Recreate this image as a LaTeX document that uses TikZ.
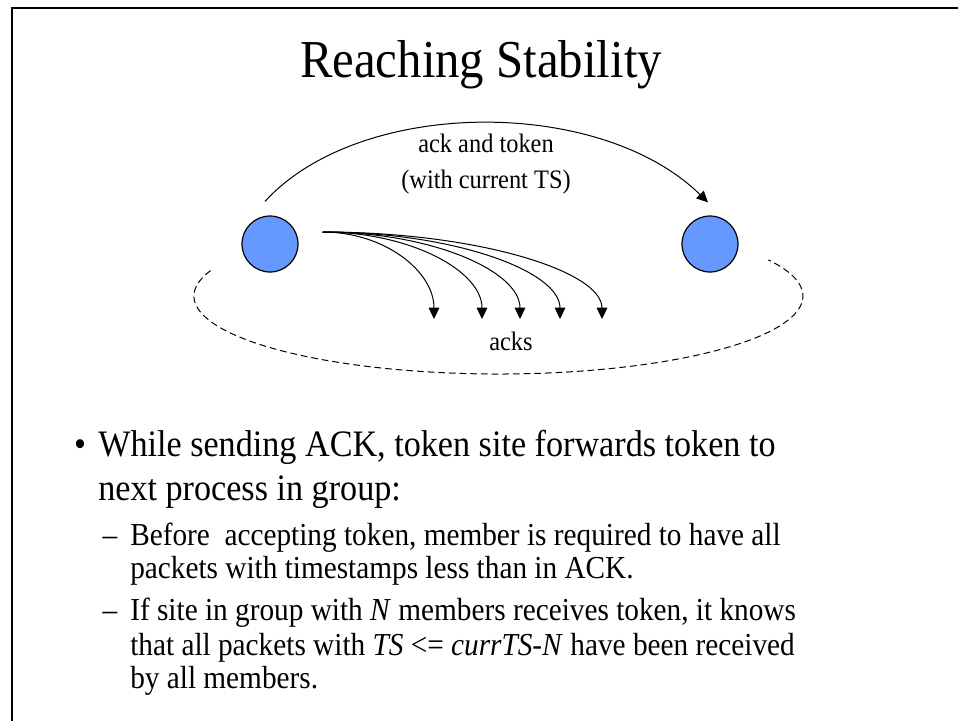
\documentclass[tikz,border=0pt]{standalone}
\usepackage{fontspec}
\setmainfont[FakeStretch=0.915]{Liberation Serif}
\usetikzlibrary{arrows.meta,calc}

\definecolor{procfill}{RGB}{102,153,255}

\begin{document}
\begin{tikzpicture}[x=0.75pt,y=0.75pt,
  proc/.style={circle,draw=black,line width=0.9pt,fill=procfill,minimum size=42pt,inner sep=0pt},
  msg/.style={draw=black,line width=0.75pt,-{Triangle[length=8.5pt,width=8pt]}},
  ring/.style={draw=black,line width=0.75pt,dash pattern=on 5pt off 3pt},
  lbl/.style={font=\fontsize{20}{24}\selectfont,inner sep=0pt,anchor=base},
  titletext/.style={font=\fontsize{40}{48}\selectfont,inner sep=0pt,anchor=base},
  body/.style={font=\fontsize{28}{33}\selectfont,inner sep=0pt,anchor=base west},
  subtext/.style={font=\fontsize{24}{28}\selectfont,inner sep=0pt,anchor=base west},
]
\useasboundingbox (0,0) rectangle (958,-721);

% slide frame (left and top edges)
\draw[line width=1.8pt] (12,-721) -- (12,-8) -- (958,-8);

% title
\node[titletext] (title) at (481,-77) {Reaching Stability};

% the two processes
\node[proc] (p1) at (270,-244) {};
\node[proc] (p2) at (710,-244) {};

% ack and token passed along to the next process
\coordinate (a0) at ($(p1.north)+(-5,14)$);
\coordinate (a1) at ($(p2.north)+(-2,13)$);
\draw[msg] (a0) .. controls ($(a0)+(95,104)$) and ($(a1)+(-108,106)$) .. (a1);
\node[lbl] (lab1) at (486,-152) {ack and token};
\node[lbl] (lab2) at (486,-188) {(with current TS)};

% acks fanned out to the group
\coordinate (s) at ($(p1.east)+(24,12)$);
\foreach \tx [count=\i] in {434,482,520,560,602} {
  \coordinate (t\i) at (\tx,-319);
  \pgfmathsetmacro{\dx}{0.55*(\tx-322)}
  \draw[msg] (s) .. controls ($(s)+(\dx,0)$) and ($(t\i)+(0,48)$) .. (t\i);
}

% the group ring
\coordinate (rc) at (498.5,-296);
\draw[ring] ($(rc)+(161:304.5 and 78)$) arc[start angle=161,end angle=387.6,x radius=304.5,y radius=78];
\node[lbl] (acks) at (511,-350) {acks};

% bullet points
\node[body,anchor=base] (d1) at (80,-456) {•};
\node[body] (b1) at (98,-456) {While sending ACK, token site forwards token to};
\node[body] (b2) at (98,-500) {next process in group:};

\node[subtext,anchor=base] (d2) at (110,-545) {–};
\node[subtext] (c1) at (130,-545) {Before\ \ accepting token, member is required to have all};
\node[subtext] (c2) at (130,-578) {packets with timestamps less than in ACK.};
\node[subtext,anchor=base] (d3) at (110,-620) {–};
\node[subtext] (c3) at (130,-620) {If site in group with \textit{N} members receives token, it knows};
\node[subtext] (c4) at (130,-655) {that all packets with \textit{TS} <= \textit{currTS-N} have been received};
\node[subtext] (c5) at (130,-688) {by all members.};
\end{tikzpicture}
\end{document}
